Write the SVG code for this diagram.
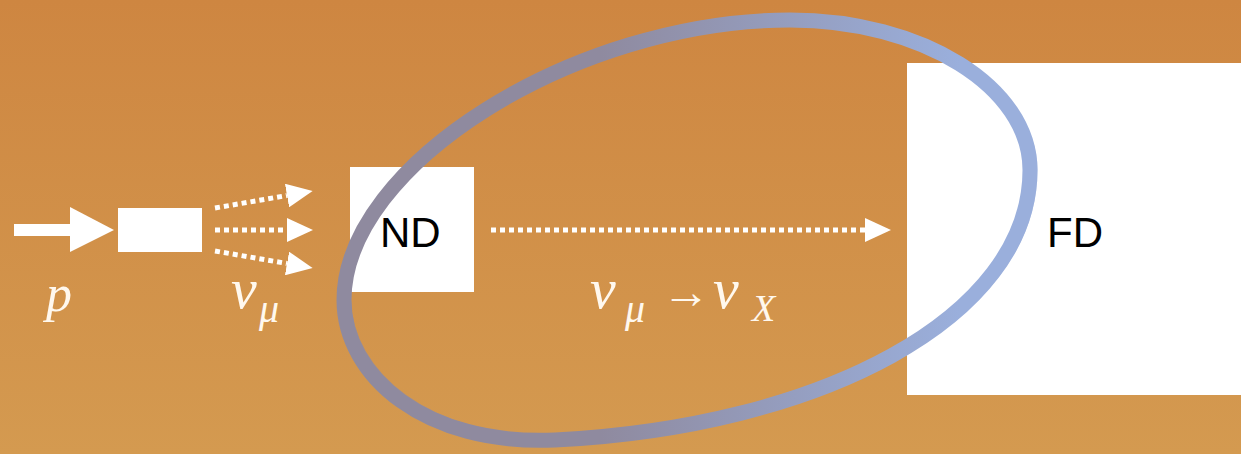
<svg xmlns="http://www.w3.org/2000/svg" width="1241" height="454" viewBox="0 0 1241 454">
  <defs>
    <linearGradient id="bg" x1="0" y1="0" x2="0" y2="1">
      <stop offset="0" stop-color="#CE8641"/>
      <stop offset="1" stop-color="#D49A50"/>
    </linearGradient>
    <linearGradient id="ring" gradientUnits="userSpaceOnUse" x1="600" y1="0" x2="960" y2="0">
      <stop offset="0" stop-color="#8F8A9F"/>
      <stop offset="1" stop-color="#9AAFDC"/>
    </linearGradient>
    <marker id="head" viewBox="0 0 26 24" refX="0" refY="12" markerWidth="26" markerHeight="24" markerUnits="userSpaceOnUse" orient="auto">
      <path d="M0,0 L26,12 L0,24 Z" fill="#FFFFFF"/>
    </marker>
    <style>
      .box { fill: #FFFFFF; }
      .dots { stroke: #FFFFFF; stroke-width: 5; stroke-dasharray: 5 4; fill: none; }
      .lbl { font-family: "Liberation Sans", Arial, sans-serif; font-size: 42px; fill: #000000; }
      .math { font-family: "Liberation Serif", "Times New Roman", serif; font-style: italic; fill: #FFF8EE; }
      .sym { font-family: "Liberation Serif", "Times New Roman", serif; fill: #FFF8EE; }
      .brush { fill: none; stroke: url(#ring); }
    </style>
  </defs>

  <rect x="0" y="0" width="1241" height="454" fill="url(#bg)"/>

  <g id="node-proton">
    <rect class="box" x="14" y="224" width="58" height="12"/>
    <path class="box" d="M70,207 L114,230 L70,252 Z"/>
    <text class="math" x="46" y="311" font-size="52">p</text>
  </g>

  <g id="node-target">
    <rect class="box" x="118" y="208" width="84" height="44"/>
  </g>

  <g id="node-nd">
    <rect class="box" x="350" y="167" width="124" height="125"/>
  </g>

  <g id="node-fd">
    <rect class="box" x="907" y="63" width="334" height="332"/>
  </g>

  <g id="connectors">
    <path class="dots" d="M215,208 L287,195.5" marker-end="url(#head)"/>
    <path class="dots" d="M215,230 L287,230" marker-end="url(#head)"/>
    <path class="dots" d="M215,251 L287,263.5" marker-end="url(#head)"/>
    <path class="dots" d="M491,230 L865,230" marker-end="url(#head)"/>
  </g>

  <g id="oscillation-ring">
    <path class="brush" d="M790,20 C922,20 1030,87 1030,170 C1030,318 820,427 555,440 C425,446 344,376 344,300 C344,165 575,20 790,20 Z" stroke-width="15" stroke-linecap="round"/>
    <path class="brush" d="M700,22 C870,6 1034,70 1036,168 C1038,320 822,432 556,445" stroke-width="3" opacity="0.55"/>
    <path class="brush" d="M556,435 C430,440 352,372 350,300 C348,170 560,26 760,24" stroke-width="2" opacity="0.5"/>
  </g>

  <g id="labels">
    <text class="lbl" x="380" y="247">ND</text>
    <text class="lbl" x="1047" y="247">FD</text>
    <text class="math" x="231" y="308" font-size="58">ν</text>
    <text class="math" x="259" y="322" font-size="40">μ</text>
    <text class="math" x="590" y="308" font-size="58">ν</text>
    <text class="math" x="625" y="322" font-size="40">μ</text>
    <text class="sym" x="662" y="308" font-size="48">→</text>
    <text class="math" x="713" y="308" font-size="58">ν</text>
    <text class="math" x="752" y="321" font-size="38">X</text>
  </g>
</svg>
